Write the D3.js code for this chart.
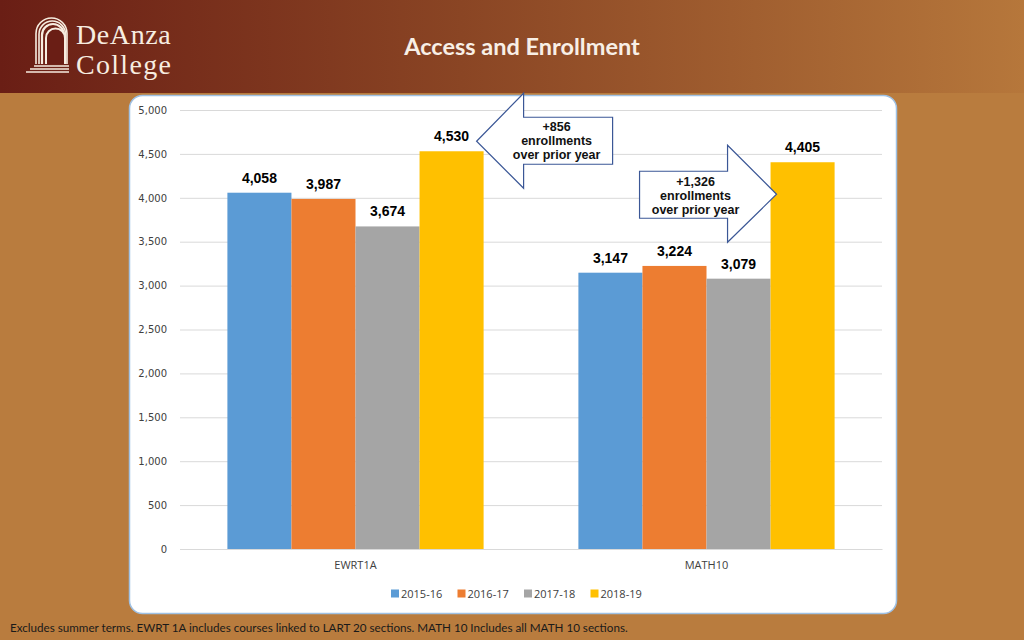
<!DOCTYPE html>
<html>
<head>
<meta charset="utf-8">
<script src="https://cdn.jsdelivr.net/npm/d3@7"></script>
<style>
  html, body { margin: 0; padding: 0; background: #b97c3e; }
  svg { display: block; }
</style>
</head>
<body>
<div id="chart"></div>
<script>
// data
const categories = ["EWRT1A", "MATH10"];
const years = ["2015-16", "2016-17", "2017-18", "2018-19"];
const ewrtValues = [4058, 3987, 3674, 4530];
const mathValues = [3147, 3224, 3079, 4405];
const yTicks = [0, 500, 1000, 1500, 2000, 2500, 3000, 3500, 4000, 4500, 5000];
const yearColors = ["#5b9bd5", "#ed7d31", "#a5a5a5", "#ffc000"];
const callouts = [
  { cat: "EWRT1A", lines: ["+856", "enrollments", "over prior year"] },
  { cat: "MATH10", lines: ["+1,326", "enrollments", "over prior year"] }
];

const W = 1024, H = 640;
const rows = categories.map((c, i) => ({
  cat: c,
  values: years.map((y, j) => ({ year: y, value: [ewrtValues, mathValues][i][j] }))
}));

const svg = d3.select("#chart").append("svg")
  .attr("width", W)
  .attr("height", H);

// header band
const defs = svg.append("defs");
const grad = defs.append("linearGradient").attr("id", "hdr").attr("x1", "0").attr("x2", "1");
grad.append("stop").attr("offset", "0%").attr("stop-color", "#6a1e15");
grad.append("stop").attr("offset", "45%").attr("stop-color", "#8a4524");
grad.append("stop").attr("offset", "100%").attr("stop-color", "#b6773b");

svg.append("rect").attr("width", W).attr("height", H).attr("fill", "#b97c3e");
svg.append("rect").attr("width", W).attr("height", 93).attr("fill", "url(#hdr)");

// logo: arch + wordmark
const logo = svg.append("g").attr("fill", "none").attr("stroke", "#f7ede0");
[0, 3, 6].forEach((o, i) => {
  const l = 36 + o, r = 67 - o * 0.5, top = 18 + o, bot = 64;
  const rad = (r - l) / 2;
  logo.append("path")
    .attr("stroke-width", i === 2 ? 2.2 : 1.6)
    .attr("d", `M${l},${bot} V${top + rad} A${rad},${rad} 0 0 1 ${r},${top + rad} V${bot}`);
});
logo.append("path")
  .attr("fill", "#6a1e15")
  .attr("stroke-width", 2)
  .attr("d", "M46,64 V38 A9.5,9.5 0 0 1 65,38 V64");
[[34, 66], [30, 69], [26, 72]].forEach(([x0, y0]) => {
  logo.append("line").attr("x1", x0).attr("x2", 69).attr("y1", y0).attr("y2", y0).attr("stroke-width", 1.6);
});
svg.append("text")
  .attr("x", 76).attr("y", 44)
  .attr("font-family", "Liberation Serif, serif")
  .attr("font-size", 28)
  .attr("letter-spacing", 0.6)
  .attr("fill", "#f7ede0")
  .text("DeAnza");
svg.append("text")
  .attr("x", 76).attr("y", 74)
  .attr("font-family", "Liberation Serif, serif")
  .attr("font-size", 28)
  .attr("letter-spacing", 1.3)
  .attr("fill", "#f7ede0")
  .text("College");

svg.append("text")
  .attr("x", 522).attr("y", 55)
  .attr("text-anchor", "middle")
  .attr("font-family", "Lato, sans-serif")
  .attr("font-weight", "bold")
  .attr("font-size", 23.5)
  .attr("fill", "#f8efe6")
  .text("Access and Enrollment");

// white chart panel
svg.append("rect")
  .attr("x", 129.5).attr("y", 95.5)
  .attr("width", 767).attr("height", 518)
  .attr("rx", 13)
  .attr("fill", "#ffffff")
  .attr("stroke", "#9fc1e4")
  .attr("stroke-width", 1.5);

// scales
const plotL = 180, plotR = 882;
const y = d3.scaleLinear().domain([0, 5000]).range([549, 110]);
const x0 = d3.scaleBand().domain(categories).range([plotL, plotR]).padding(0);
const x1 = d3.scaleBand().domain(years).range([0, x0.bandwidth()]).paddingInner(0).paddingOuter(0.74);
const color = d3.scaleOrdinal().domain(years).range(yearColors);

// y axis with gridlines
const yAxis = svg.append("g")
  .attr("transform", `translate(${plotL},0)`)
  .call(d3.axisLeft(y).tickValues(yTicks).tickSize(-(plotR - plotL)).tickPadding(13).tickFormat(d3.format(",")));
yAxis.select(".domain").remove();
yAxis.selectAll(".tick line").attr("stroke", "#d9d9d9");
yAxis.selectAll(".tick text")
  .attr("fill", "#404040")
  .attr("font-family", "DejaVu Sans, sans-serif")
  .attr("font-size", 10);

// x axis labels
const xAxis = svg.append("g")
  .attr("transform", "translate(0,549)")
  .call(d3.axisBottom(x0).tickSize(0).tickPadding(12));
xAxis.select(".domain").attr("stroke", "#d9d9d9");
xAxis.selectAll(".tick text")
  .attr("fill", "#404040")
  .attr("font-family", "Open Sans, sans-serif")
  .attr("font-size", 11);

// bars
const groups = svg.append("g").selectAll("g")
  .data(rows)
  .join("g")
  .attr("transform", d => `translate(${x0(d.cat)},0)`);

groups.selectAll("rect")
  .data(d => d.values)
  .join("rect")
  .attr("x", d => x1(d.year))
  .attr("y", d => y(d.value))
  .attr("width", x1.bandwidth())
  .attr("height", d => y(0) - y(d.value))
  .attr("fill", d => color(d.year));

groups.selectAll("text")
  .data(d => d.values)
  .join("text")
  .attr("x", d => x1(d.year) + x1.bandwidth() / 2)
  .attr("y", d => y(d.value) - 10)
  .attr("text-anchor", "middle")
  .attr("font-family", "Liberation Sans, Arial, sans-serif")
  .attr("font-weight", "bold")
  .attr("font-size", 14)
  .attr("fill", "#000")
  .text(d => d3.format(",")(d.value));

// block arrow callouts, anchored to the 2018-19 bars
const lastYear = years[years.length - 1];
function leftArrow(tipX, tipY) {
  const bx = tipX + 47, rx = tipX + 136;
  return [[tipX, tipY], [bx, tipY - 48], [bx, tipY - 24], [rx, tipY - 24],
          [rx, tipY + 23], [bx, tipY + 23], [bx, tipY + 47]];
}
function rightArrow(tipX, tipY) {
  const bx = tipX - 49, lx = tipX - 137;
  return [[tipX, tipY], [bx, tipY - 49], [bx, tipY - 23], [lx, tipY - 23],
          [lx, tipY + 24], [bx, tipY + 24], [bx, tipY + 48]];
}
const line = d3.line();

callouts.forEach((c, i) => {
  const barX = x0(c.cat) + x1(lastYear);
  let pts, textX, baseY;
  if (i === 0) {
    const tipX = barX + x1.bandwidth() - 7, tipY = y(ewrtValues[3]) - 10;
    pts = leftArrow(tipX, tipY);
    textX = tipX + 80; baseY = tipY - 10;
  } else {
    const tipX = barX + 6, tipY = y(mathValues[3]) + 32;
    pts = rightArrow(tipX, tipY);
    textX = tipX - 81; baseY = tipY - 8;
  }
  svg.append("path")
    .attr("d", line(pts) + "Z")
    .attr("fill", "#ffffff")
    .attr("stroke", "#3b5796")
    .attr("stroke-width", 1.2);
  c.lines.forEach((t, k) => {
    svg.append("text")
      .attr("x", textX)
      .attr("y", baseY + k * 14)
      .attr("text-anchor", "middle")
      .attr("font-family", "Liberation Sans, Arial, sans-serif")
      .attr("font-weight", "bold")
      .attr("font-size", 12.5)
      .attr("fill", "#111")
      .text(t);
  });
});

// legend
const legend = svg.append("g").attr("transform", "translate(391,594)");
const item = legend.selectAll("g")
  .data(years)
  .join("g")
  .attr("transform", (d, i) => `translate(${i * 66.5},0)`);
item.append("rect")
  .attr("x", 0).attr("y", -4.5)
  .attr("width", 8).attr("height", 8)
  .attr("fill", d => color(d));
item.append("text")
  .attr("x", 10).attr("y", 4)
  .attr("font-family", "Open Sans, sans-serif")
  .attr("font-size", 11)
  .attr("fill", "#404040")
  .text(d => d);

// footnote
svg.append("text")
  .attr("x", 10).attr("y", 632)
  .attr("font-family", "Lato, sans-serif")
  .attr("font-size", 11.65)
  .attr("fill", "#1a1a1a")
  .text("Excludes summer terms. EWRT 1A includes courses linked to LART 20 sections. MATH 10 Includes all MATH 10 sections.");
</script>
</body>
</html>
